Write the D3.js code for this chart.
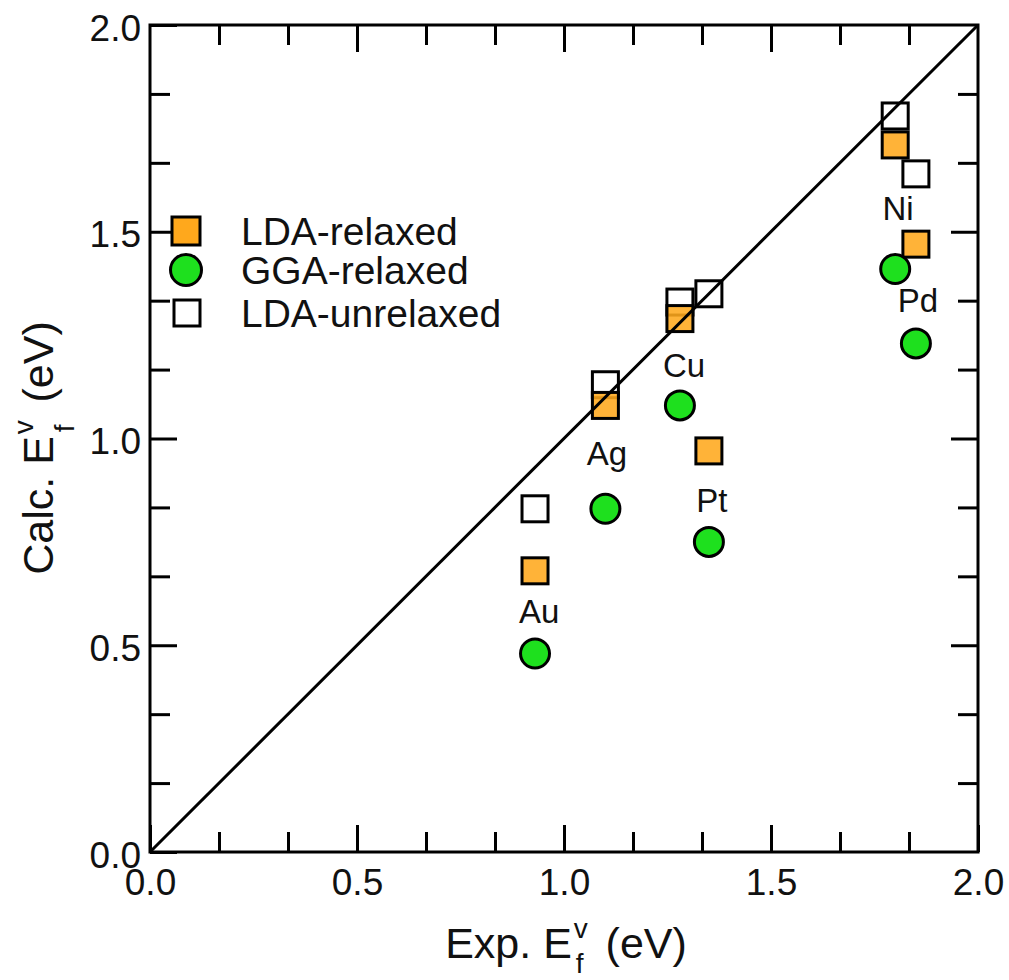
<!DOCTYPE html>
<html>
<head>
<meta charset="utf-8">
<script src="https://cdn.jsdelivr.net/npm/d3@7"></script>
<style>
  html, body { margin: 0; padding: 0; background: #fff; }
  svg { display: block; }
  text { font-family: "Liberation Sans", Arial, Helvetica, sans-serif; fill: #111; }
</style>
</head>
<body>
<svg id="chart" width="1009" height="980"></svg>
<script>
// ---- data ----
const metals   = ["Au", "Ag", "Cu", "Pt", "Ni", "Pd"];
const expEf    = [0.93, 1.10, 1.28, 1.35, 1.80, 1.85];
const ldaRelax = [0.68, 1.08, 1.29, 0.97, 1.71, 1.47];
const ggaRelax = [0.48, 0.83, 1.08, 0.75, 1.41, 1.23];
const ldaUnrel = [0.83, 1.13, 1.33, 1.35, 1.78, 1.64];
const labelX   = [0.940, 1.104, 1.290, 1.357, 1.807, 1.855];
const labelY   = [0.554, 0.936, 1.149, 0.822, 1.528, 1.306];
const majorTicks = [0, 0.5, 1.0, 1.5, 2.0];
const tickLabels = ["0.0", "0.5", "1.0", "1.5", "2.0"];
const minorTicks = [1/6, 2/6, 4/6, 5/6, 7/6, 8/6, 10/6, 11/6];
const legendItems = ["LDA-relaxed", "GGA-relaxed", "LDA-unrelaxed"];

// ---- layout ----
const L = 150, R = 978, T = 25, B = 852;
const svg = d3.select("#chart");
const x = d3.scaleLinear().domain([0, 2]).range([L, R]);
const y = d3.scaleLinear().domain([0, 2]).range([B, T]);
const ORANGE = "#FFA81C", GREEN = "#1EE01E";
const sq = 26, cr = 14.5;
const TICKFS = 37;

// axes with inward ticks on all sides
function drawAxis(axisGen, tx, ty, vals, size, withLabels) {
  const g = svg.append("g").attr("transform", `translate(${tx},${ty})`)
    .call(axisGen.tickValues(vals).tickSize(size).tickSizeOuter(0)
      .tickFormat(withLabels ? (d => tickLabels[majorTicks.indexOf(d)]) : () => ""));
  g.select(".domain").remove();
  g.selectAll(".tick line").attr("stroke", "#000").attr("stroke-width", 3);
  g.selectAll(".tick text").attr("font-size", TICKFS).attr("fill", "#111")
    .attr("font-family", "'Liberation Sans', Arial, Helvetica, sans-serif");
  return g;
}
// bottom
const gb = drawAxis(d3.axisBottom(x), 0, B, majorTicks, -27, true);
gb.selectAll(".tick text").attr("y", 43).attr("dy", 0);
drawAxis(d3.axisBottom(x), 0, B, minorTicks, -20, false);
// top
drawAxis(d3.axisTop(x), 0, T, majorTicks.filter(d => d > 0 && d < 2), -27, false);
drawAxis(d3.axisTop(x), 0, T, minorTicks, -20, false);
// left
const gl = drawAxis(d3.axisLeft(y), L, 0, majorTicks, -27, true);
gl.selectAll(".tick text").attr("x", -9).attr("dy", 15);
drawAxis(d3.axisLeft(y), L, 0, minorTicks, -20, false);
// right
drawAxis(d3.axisRight(y), R, 0, majorTicks.filter(d => d > 0 && d < 2), -27, false);
drawAxis(d3.axisRight(y), R, 0, minorTicks, -20, false);

// frame
svg.append("rect").attr("x", L).attr("y", T).attr("width", R - L).attr("height", B - T)
  .attr("fill", "none").attr("stroke", "#000").attr("stroke-width", 3);

// points
const pts = metals.map((m, i) => ({ m, xe: expEf[i], lda: ldaRelax[i], gga: ggaRelax[i], un: ldaUnrel[i], lx: labelX[i], ly: labelY[i] }));

svg.append("g").selectAll("rect").data(pts).join("rect")
  .attr("x", d => x(d.xe) - sq / 2).attr("y", d => y(d.un) - sq / 2)
  .attr("width", sq).attr("height", sq)
  .attr("fill", "#fff").attr("stroke", "#000").attr("stroke-width", 3);

svg.append("g").selectAll("rect").data(pts).join("rect")
  .attr("x", d => x(d.xe) - sq / 2).attr("y", d => y(d.lda) - sq / 2)
  .attr("width", sq).attr("height", sq)
  .attr("fill", ORANGE).attr("fill-opacity", 0.88).attr("stroke", "#000").attr("stroke-width", 3);

svg.append("g").selectAll("circle").data(pts).join("circle")
  .attr("cx", d => x(d.xe)).attr("cy", d => y(d.gga)).attr("r", cr)
  .attr("fill", GREEN).attr("stroke", "#000").attr("stroke-width", 3);

// diagonal (drawn over markers, as in the reference)
svg.append("line")
  .attr("x1", x(0)).attr("y1", y(0)).attr("x2", x(2)).attr("y2", y(2))
  .attr("stroke", "#000").attr("stroke-width", 3);

// labels
svg.append("g").selectAll("text").data(pts).join("text")
  .attr("x", d => x(d.lx)).attr("y", d => y(d.ly))
  .attr("text-anchor", "middle").attr("font-size", 33)
  .text(d => d.m);

// legend
const legY = [231, 270, 313];
const lg = svg.append("g");
lg.append("rect").attr("x", 186 - 14).attr("y", legY[0] - 14).attr("width", 28).attr("height", 28)
  .attr("fill", ORANGE).attr("stroke", "#000").attr("stroke-width", 3);
lg.append("circle").attr("cx", 186).attr("cy", legY[1]).attr("r", 15.5)
  .attr("fill", GREEN).attr("stroke", "#000").attr("stroke-width", 3);
lg.append("rect").attr("x", 187 - 13).attr("y", legY[2] - 13).attr("width", 26).attr("height", 26)
  .attr("fill", "#fff").attr("stroke", "#000").attr("stroke-width", 3);
lg.selectAll("text").data(legendItems).join("text")
  .attr("x", 241).attr("y", (d, i) => legY[i] + 14)
  .attr("font-size", 39).text(d => d);

// axis titles
function title(sel) {
  sel.attr("text-anchor", "middle").attr("font-size", 43);
  return sel;
}
const xt = title(svg.append("text").attr("x", 566).attr("y", 958));
xt.append("tspan").text("Exp. E");
xt.append("tspan").attr("font-size", 28).attr("dx", 2).attr("dy", -20).text("v");
xt.append("tspan").attr("font-size", 28).attr("dx", -12).attr("dy", 35).text("f");
xt.append("tspan").attr("dx", 10).attr("dy", -15).text(" (eV)");

const yt = title(svg.append("text").attr("transform", "translate(53,448) rotate(-90)"));
yt.append("tspan").text("Calc. E");
yt.append("tspan").attr("font-size", 28).attr("dx", 2).attr("dy", -20).text("v");
yt.append("tspan").attr("font-size", 28).attr("dx", -12).attr("dy", 41).text("f");
yt.append("tspan").attr("dx", 10).attr("dy", -21).text(" (eV)");
</script>
</body>
</html>
